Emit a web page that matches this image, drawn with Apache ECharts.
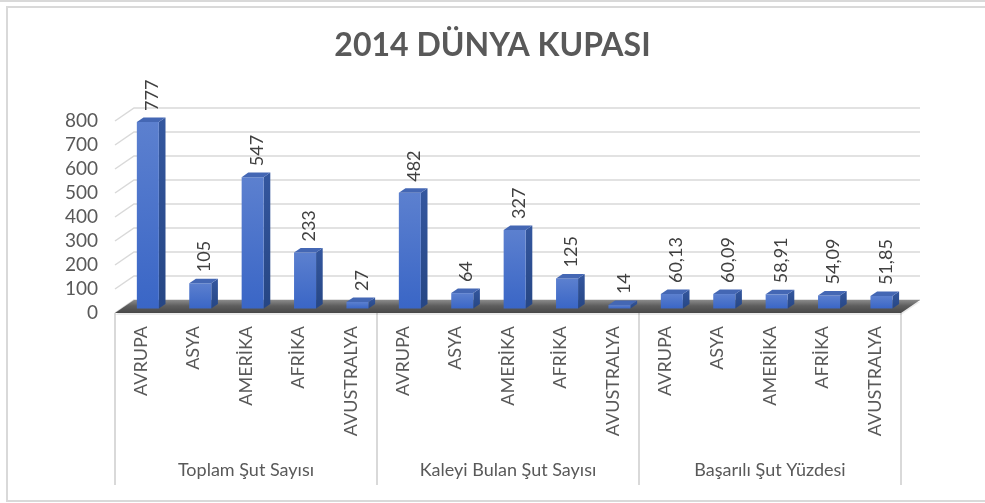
<!DOCTYPE html>
<html><head><meta charset="utf-8">
<script src="https://cdn.jsdelivr.net/npm/echarts@6/dist/echarts.min.js"></script>
<style>html,body{margin:0;padding:0;background:#fff}#c{width:985px;height:503px}</style>
</head><body><div id="c"></div>
<script>
const regions = ['AVRUPA', 'ASYA', 'AMERİKA', 'AFRİKA', 'AVUSTRALYA'];
const groups = ['Toplam Şut Sayısı', 'Kaleyi Bulan Şut Sayısı', 'Başarılı Şut Yüzdesi'];
const toplamSut = [777, 105, 547, 233, 27];
const kaleyiBulan = [482, 64, 327, 125, 14];
const basariYuzde = [60.13, 60.09, 58.91, 54.09, 51.85];
const yTicks = [0, 100, 200, 300, 400, 500, 600, 700, 800];
const titleText = '2014 DÜNYA KUPASI';

const categories = [];
groups.forEach(function () { regions.forEach(function (r) { categories.push(r); }); });
const values = [].concat(toplamSut, kaleyiBulan, basariYuzde);
const barData = values.map(function (v, i) { return [i, v]; });
const wallData = yTicks.map(function (v) { return [0, v]; });

// depth vector of the 3D floor
const DX = 19, DY = -13;
const F = 0.35, B = 0.70; // bar front / back depth fractions
const FONT = 'Lato, "Open Sans", sans-serif';

function edges(api, v) {
  const band = api.size([1, 0])[0];
  const p0 = api.coord([0, v]);
  const p1 = api.coord([categories.length - 1, v]);
  return { left: p0[0] - band / 2, right: p1[0] + band / 2, y: p0[1], band: band };
}

function wallItem(params, api) {
  const e = edges(api, api.value(1));
  return {
    type: 'polyline', silent: true,
    shape: { points: [[e.left, e.y], [e.left + DX, e.y + DY], [e.right + DX, e.y + DY]] },
    style: { stroke: '#d9d9d9', lineWidth: 1.5, fill: null }
  };
}

function floorItem(params, api) {
  const e = edges(api, 0);
  return {
    type: 'group', silent: true,
    children: [
      { type: 'polygon', shape: { points: [[e.left, e.y + 2], [e.right, e.y + 2], [e.right + DX, e.y + 2 + DY], [e.left + DX, e.y + 2 + DY]] },
        style: { fill: 'rgba(0,0,0,0.08)' } },
      { type: 'polygon', shape: { points: [[e.left, e.y], [e.right, e.y], [e.right + DX, e.y + DY], [e.left + DX, e.y + DY]] },
        style: { fill: new echarts.graphic.LinearGradient(0, 0, 0, 1, [
          { offset: 0, color: '#8a8a8a' }, { offset: 0.45, color: '#5e5e5e' }, { offset: 1, color: '#474747' }]) } }
    ]
  };
}

function fmt(v) { return String(v).replace('.', ','); }

function barItem(params, api) {
  const i = api.value(0), v = api.value(1);
  const top = api.coord([i, v]);
  const base = api.coord([i, 0]);
  const band = api.size([1, 0])[0];
  const w = band * 0.42;
  const x0 = top[0] + F * DX - w / 2;
  const x1 = x0 + w;
  const yT = top[1] + F * DY;
  const yB = base[1] + F * DY;
  const ddx = (B - F) * DX, ddy = (B - F) * DY;
  return {
    type: 'group',
    children: [
      { type: 'polygon', shape: { points: [[x1, yT], [x1 + ddx, yT + ddy], [x1 + ddx, yB + ddy], [x1, yB]] },
        style: { fill: new echarts.graphic.LinearGradient(0, 0, 0, 1, [
          { offset: 0, color: '#34579f' }, { offset: 1, color: '#264684' }]) } },
      { type: 'rect', shape: { x: x0, y: yT, width: w, height: Math.max(yB - yT, 0.5) },
        style: { fill: new echarts.graphic.LinearGradient(0, 0, 0, 1, [
          { offset: 0, color: '#5c80cf' }, { offset: 1, color: '#3a66c6' }]) } },
      { type: 'polygon', shape: { points: [[x0, yT], [x1, yT], [x1 + ddx, yT + ddy], [x0 + ddx, yT + ddy]] },
        style: { fill: '#4467b4' } },
      { type: 'text', x: (x0 + x1 + ddx) / 2 + 1, y: yT - 11, rotation: Math.PI / 2,
        style: { text: fmt(v), fill: '#404040', font: '18px ' + FONT, align: 'left', verticalAlign: 'middle' } }
    ]
  };
}

const chart = echarts.init(document.getElementById('c'), null, { renderer: 'canvas' });
chart.setOption({
  backgroundColor: '#ffffff',
  animation: false,
  title: {
    text: titleText, left: 'center', top: 25,
    textStyle: { fontFamily: FONT, fontSize: 32, fontWeight: 'bold', color: '#595959' }
  },
  graphic: [
    { type: 'line', shape: { x1: 0, y1: 1, x2: 985, y2: 1 }, style: { stroke: '#d9d9d9', lineWidth: 2 }, silent: true },
    { type: 'rect', shape: { x: 7, y: 7, width: 1000, height: 494 }, style: { stroke: '#d9d9d9', lineWidth: 2, fill: null }, silent: true }
  ],
  grid: { left: 115, right: 84, top: 121, bottom: 190 },
  xAxis: [
    {
      type: 'category', data: categories, position: 'bottom',
      axisLine: { show: false }, axisTick: { show: false },
      axisLabel: { rotate: 90, interval: 0, margin: 13, color: '#595959', fontSize: 18, fontFamily: FONT }
    },
    {
      type: 'category', data: groups, position: 'bottom', gridIndex: 0,
      axisLine: { show: false },
      axisTick: { show: true, length: 172, lineStyle: { color: '#d9d9d9', width: 2 } },
      axisLabel: { interval: 0, margin: 148, color: '#595959', fontSize: 18, fontFamily: FONT }
    }
  ],
  yAxis: {
    type: 'value', min: 0, max: 800, interval: 100,
    axisLine: { show: false }, axisTick: { show: false }, splitLine: { show: false },
    axisLabel: { margin: 17, color: '#595959', fontSize: 19, fontFamily: FONT, padding: [4, 0, 0, 0] }
  },
  series: [
    { type: 'custom', name: 'wall', renderItem: wallItem, data: wallData, encode: { x: 0, y: 1 }, z: 1, silent: true, clip: false },
    { type: 'custom', name: 'floor', renderItem: floorItem, data: [[0, 0]], encode: { x: 0, y: 1 }, z: 2, silent: true, clip: false },
    { type: 'custom', name: 'bars', renderItem: barItem, data: barData, encode: { x: 0, y: 1 }, z: 3, clip: false }
  ]
});
</script>
</body></html>
